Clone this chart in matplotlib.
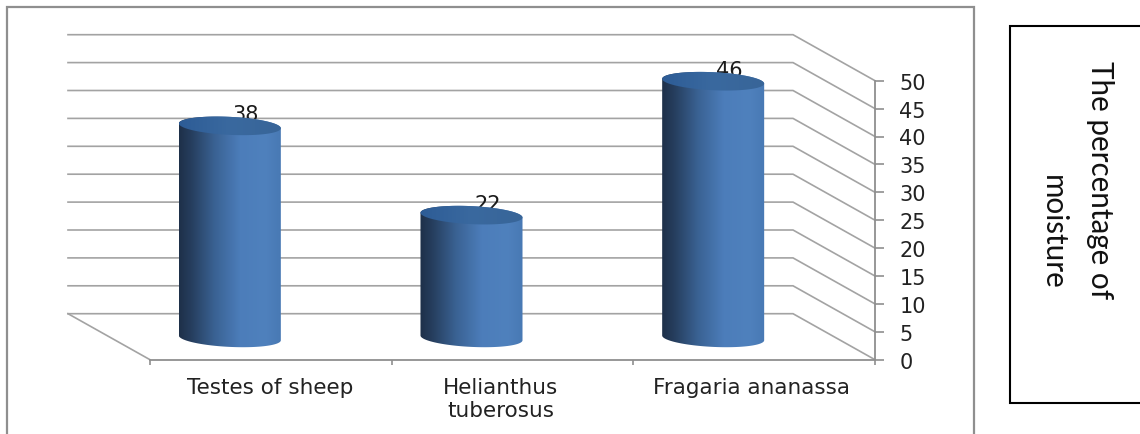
import numpy as np
import matplotlib
matplotlib.use("Agg")
import matplotlib.pyplot as plt
from matplotlib.colors import LinearSegmentedColormap
from matplotlib.patches import Polygon, Rectangle

categories = ["Testes of sheep", "Helianthus\ntuberosus", "Fragaria ananassa"]
values = [38, 22, 46]
y_ticks = list(range(0, 55, 5))
side_title = ["The percentage of", "moisture"]

W, H = 1140, 435
L, R, T, B = 150, 875, 81.7, 360.7
GRID = "#a3a3a3"
TXT = "#222222"
FONT = "DejaVu Sans"

fig = plt.figure(figsize=(W / 100, H / 100), dpi=100, facecolor="white")
ax = fig.add_axes([L / W, 1 - B / H, (R - L) / W, (B - T) / H])
ax.patch.set_alpha(0)
XMAX, YMAX = len(categories), y_ticks[-1]
px = XMAX / (R - L)
py = YMAX / (B - T)
DX, DY = -82 * px, 46.0 * py


def fig_px(x, y):
    return x / W, 1 - y / H


def add_box(x0, y0, x1, y1, **kw):
    fig.add_artist(Rectangle(fig_px(x0, y1), (x1 - x0) / W, (y1 - y0) / H,
                             transform=fig.transFigure, fc="white", zorder=-5, **kw))


# chart frame and side box
add_box(6.5, 8, 974, 470, ec="#8f8f8f", lw=1.6)
add_box(1009.5, 27, 1150, 404, ec="black", lw=1.5)

# back wall grid, side wall, floor
for v in y_ticks:
    ax.plot([DX, XMAX + DX, XMAX], [v + DY, v + DY, v], color=GRID, lw=1.2,
            clip_on=False, zorder=1, solid_joinstyle="miter")
ax.plot([DX, 0], [DY, 0], color=GRID, lw=1.2, clip_on=False, zorder=1)

# axes
for s in ["left", "top"]:
    ax.spines[s].set_visible(False)
for s in ["right", "bottom"]:
    ax.spines[s].set_color("#8f8f8f")
    ax.spines[s].set_linewidth(1.3)
ax.yaxis.tick_right()
ax.set_yticks(y_ticks)
ax.set_yticklabels([str(v) for v in y_ticks], fontsize=15, color=TXT, family=FONT)
ax.tick_params(axis="y", length=6.5, width=1.2, color="#8f8f8f", pad=11)
ax.set_xticks(range(XMAX + 1))
ax.set_xticklabels([])
ax.tick_params(axis="x", length=3.5, width=1.2, color="#8f8f8f")

body_cmap = LinearSegmentedColormap.from_list(
    "body", [(0, "#1e3049"), (0.12, "#263e5e"), (0.35, "#3a6293"),
             (0.6, "#4c7dba"), (0.85, "#4f81bd"), (1, "#4879b4")])
top_cmap = LinearSegmentedColormap.from_list("top", ["#2d5c96", "#3a699f", "#386598"])
ramp = np.linspace(0, 1, 256)[None, :]
t_low = np.linspace(np.pi, 2 * np.pi, 60)
t_up = np.linspace(0, np.pi, 60)
t_all = np.linspace(0, 2 * np.pi, 120)
a, b, sh = 51 * px, 9.0 * py, 2.4 * py
BAR_DY = DY / 2 - 1.2 * py


def ell(cx, cy, t):
    return np.c_[cx + a * np.cos(t), cy + b * np.sin(t) - sh * np.cos(t)]


for i, v in enumerate(values):
    cx = i + 0.5 + DX / 2
    cy0, cy1 = BAR_DY, v + BAR_DY
    ax.text(cx + 16 * px, v + BAR_DY + 11.5 * py, str(v), ha="center", va="center",
            fontsize=15, color="#1a1a1a", family=FONT, zorder=2, clip_on=False)
    body = Polygon(np.r_[ell(cx, cy0, t_low), ell(cx, cy1, t_up)],
                   transform=ax.transData, fc="none", ec="none")
    ax.add_patch(body)
    im = ax.imshow(ramp, cmap=body_cmap, aspect="auto", zorder=3,
                   extent=[cx - a, cx + a, cy0 - 12 * py, cy1 + 12 * py])
    im.set_clip_path(body)
    im.set_clip_box(fig.bbox)
    top = Polygon(ell(cx, cy1, t_all), transform=ax.transData, fc="none", ec="none")
    ax.add_patch(top)
    im2 = ax.imshow(ramp, cmap=top_cmap, aspect="auto", zorder=4,
                    extent=[cx - a, cx + a, cy1 - 12 * py, cy1 + 12 * py])
    im2.set_clip_path(top)
    im2.set_clip_box(fig.bbox)

ax.set_xlim(0, XMAX)
ax.set_ylim(0, YMAX)

# category labels
label_shift = [-1, -12, -3]
for i, (c, sx) in enumerate(zip(categories, label_shift)):
    ax.text(i + 0.5 + sx * px, -17 * py, c, ha="center", va="top", fontsize=15.5,
            color=TXT, family=FONT, linespacing=1.2, clip_on=False)

# side title
for (x, y), s in zip([(1100, 180), (1053, 232.5)], side_title):
    fig.text(*fig_px(x, y), s, rotation=-90, ha="center", va="center",
             fontsize=21.3, family="Lato", color="#111111")

fig.savefig("out.png", dpi=100)
